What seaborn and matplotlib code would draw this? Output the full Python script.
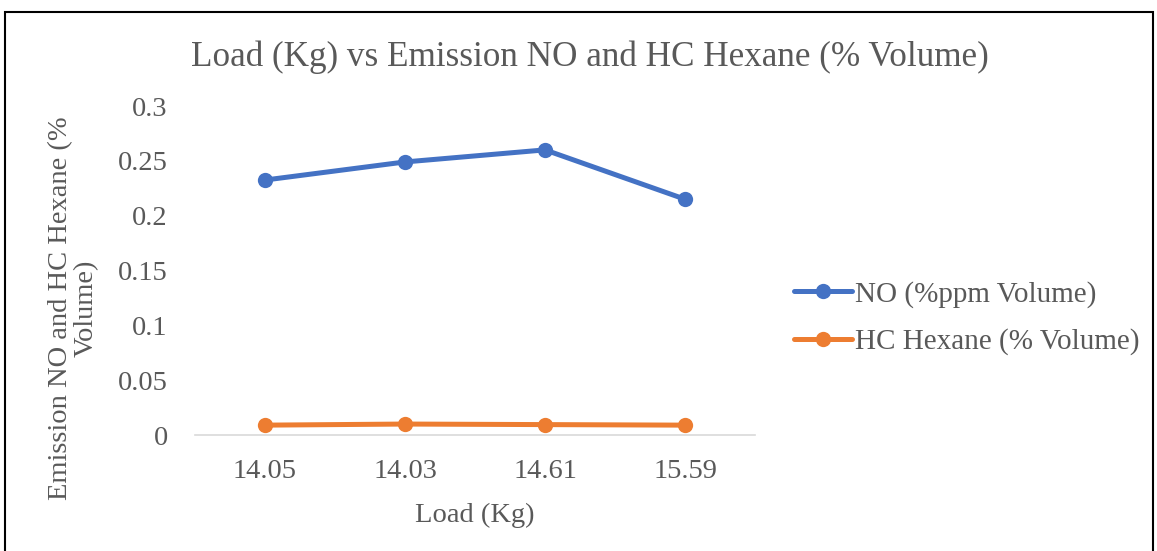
import matplotlib
matplotlib.use("Agg")
import matplotlib.pyplot as plt
import seaborn as sns
import pandas as pd
from matplotlib.patches import Rectangle

loads = ["14.05", "14.03", "14.61", "15.59"]
no_vals = [0.2325, 0.249, 0.260, 0.215]
hc_vals = [0.009, 0.010, 0.0095, 0.009]
series_names = ["NO (%ppm Volume)", "HC Hexane (% Volume)"]
colors = ["#4472C4", "#ED7D31"]
y_ticks = [0, 0.05, 0.1, 0.15, 0.2, 0.25, 0.3]
y_labels = ["0", "0.05", "0.1", "0.15", "0.2", "0.25", "0.3"]

sns.set_theme(style="white")
plt.rcParams['font.family'] = ['Liberation Serif', 'DejaVu Serif']
txt = "#595959"

df = pd.DataFrame({
    "Load": loads * 2,
    "x": list(range(len(loads))) * 2,
    "val": no_vals + hc_vals,
    "series": [series_names[0]] * 4 + [series_names[1]] * 4,
})

fig = plt.figure(figsize=(11.57, 5.51), dpi=100)
ax = fig.add_axes([0.1685, 0.2105, 0.4841, 0.5971])
sns.lineplot(data=df, x="x", y="val", hue="series", palette=colors,
             marker="o", markersize=11, linewidth=3.6, markeredgewidth=0,
             ax=ax, legend=True)

ax.set_xlim(-0.5, len(loads) - 0.5)
ax.set_ylim(0, 0.3)
ax.set_xticks(range(len(loads)))
ax.set_xticklabels(loads)
ax.set_yticks(y_ticks)
ax.set_yticklabels(y_labels)
ax.tick_params(axis="both", labelsize=20.5, colors=txt, length=0)
ax.tick_params(axis="y", pad=19.5)
ax.tick_params(axis="x", pad=17)
for s in ["top", "right", "left"]:
    ax.spines[s].set_visible(False)
ax.spines["bottom"].set_color("#D9D9D9")
ax.spines["bottom"].set_linewidth(1.2)
ax.grid(False)

ax.set_xlabel("Load (Kg)", fontsize=20.5, color=txt, labelpad=14)
ax.set_ylabel("")
fig.text(73.5 / 1157, 1 - 308 / 551, "Emission NO and HC Hexane (%\nVolume)",
         rotation=90, ha="center", va="center", multialignment="center",
         fontsize=20.5, color=txt, linespacing=1.02)

fig.text(590 / 1157, 1 - 57 / 551, "Load (Kg) vs Emission NO and HC Hexane (% Volume)",
         ha="center", va="center", fontsize=25.3, color=txt)

leg = ax.legend(loc="center left", bbox_to_anchor=(794 / 1157, 1 - 318 / 551),
                bbox_transform=fig.transFigure, frameon=False, fontsize=21,
                handlelength=2.0, handletextpad=0.1, labelspacing=0.72,
                borderpad=0, borderaxespad=0)
for t in leg.get_texts():
    t.set_color(txt)

fig.patches.append(Rectangle((0.0045, -0.02), 0.992, 0.9985, transform=fig.transFigure,
                             fill=False, edgecolor="black", linewidth=1.5))

fig.savefig("out.png", dpi=100)
